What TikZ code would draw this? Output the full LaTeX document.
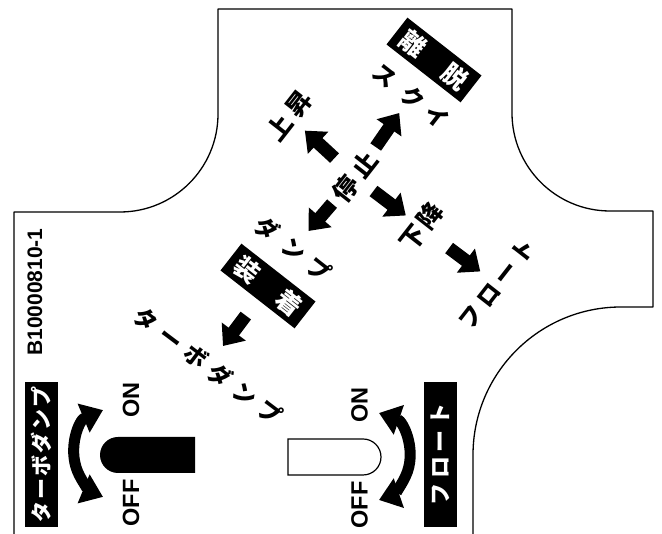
\documentclass[tikz,border=0pt]{standalone}
\usepackage{fontspec}
\setmainfont{Liberation Sans}
\newfontfamily\jp{Noto Sans CJK JP}
\usepackage{tikz}
\usetikzlibrary{arrows.meta, calc}

\begin{document}
\begin{tikzpicture}[
    x=1pt, y=1pt,
    every node/.style={inner sep=0pt, outer sep=0pt},
    kana/.style={font=\jp\bfseries\fontsize{23}{23}\selectfont},
    kanji/.style={font=\jp\bfseries\fontsize{25}{25}\selectfont},
    tag/.style={fill=black, text=white, minimum width=94pt, minimum height=34pt, font=\jp\bfseries\fontsize{25}{25}\selectfont},
    sidetag/.style={fill=black, text=white, minimum width=145pt, minimum height=33pt, rotate=90, font=\jp\bfseries\fontsize{21}{21}\selectfont},
    latin/.style={font=\bfseries\fontsize{23.5}{24}\selectfont, rotate=90},
    blockarrow/.style={line width=13pt, -{Triangle[length=18pt, width=29pt]}},
    swing/.style={line width=11pt, {Triangle[length=21pt, width=30pt]}-{Triangle[length=21pt, width=30pt]}},
    panel/.style={line width=1.3pt, line join=round},
    ]

    \useasboundingbox (0,0) rectangle (662,534);

    % Panel outline
    \draw[panel] (14,0) -- (14,322) -- (120,322)
        arc[start angle=-90, end angle=0, radius=98] -- (218,525) -- (512,525) -- (512,421)
        arc[start angle=180, end angle=270, radius=98] -- (653,323) -- (653,227) -- (621,227)
        arc[start angle=90, end angle=180, radius=148] -- (473,0);

    % Serial number
    \node[latin, font=\bfseries\fontsize{21}{21}\selectfont] (serial) at (35,242) {B10000810-1};

    % Lever gate: centre and the two axes
    \node[kanji, rotate=52] (stop) at (355,357) {停\hspace{5pt}止};
    \node[kanji, rotate=52] (rise) at (289,418) {上\hspace{6pt}昇};
    \node[kanji, rotate=52] (lower) at (421,307) {下\hspace{3pt}降};
    \node[kana, rotate=52] (float) at (497,250) {フ\hspace{5pt}ロ\hspace{5pt}ー\hspace{5pt}ト};
    \node[kana, rotate=-38] (scoop) at (411,438) {ス\hspace{12pt}ク\hspace{8pt}イ};
    \node[tag, rotate=-38] (detach) at (434,474) {離\hspace{28pt}脱};
    \node[kana, rotate=-38] (dump) at (293,285) {ダ\hspace{11pt}ン\hspace{9pt}プ};
    \node[tag, rotate=-38] (attach) at (268,248) {装\hspace{28pt}着};
    \node[kana, rotate=-37] (turbo) at (208,168) {タ\hspace{8pt}ー\hspace{8pt}ボ\hspace{8pt}ダ\hspace{8pt}ン\hspace{8pt}プ};

    % Gate arrows
    \draw[blockarrow] ($(stop)!0.31!(rise)$) -- ($(stop)!0.76!(rise)$);
    \draw[blockarrow] ($(stop)!0.28!(lower)$) -- ($(stop)!0.77!(lower)$);
    \draw[blockarrow] ($(lower)!0.37!(float)$) -- ($(lower)!0.78!(float)$);
    \draw[blockarrow] ($(stop)!0.37!(scoop)$) -- ($(stop)!0.79!(scoop)$);
    \draw[blockarrow] ($(stop)!0.37!(dump)$) -- ($(stop)!0.75!(dump)$);
    \draw[blockarrow] ($(attach)!0.37!(turbo)$) -- ($(attach)!0.75!(turbo)$);

    % Turbo dump switch (left)
    \node[sidetag] (turbotag) at (41.5,79.5) {タ\hspace{2pt}ー\hspace{2pt}ボ\hspace{2pt}ダ\hspace{2pt}ン\hspace{2pt}プ};
    \coordinate (pivotL) at (121,80.5);
    \draw[swing] ($(pivotL)+(112.5:47)$) arc[start angle=112.5, end angle=247.5, radius=47];
    \fill (195,61) -- (118,61) arc[start angle=270, end angle=90, radius=18] -- (195,97) -- cycle;
    \node[latin] (onL) at (131,134) {ON};
    \node[latin] (offL) at (131,31) {OFF};

    % Float switch (right)
    \node[sidetag, font=\jp\bfseries\fontsize{22}{22}\selectfont] (floattag) at (440,79.5) {フ\hspace{5pt}ロ\hspace{5pt}ー\hspace{5pt}ト};
    \coordinate (pivotR) at (364,77.5);
    \draw[swing] ($(pivotR)+(71:46)$) arc[start angle=71, end angle=-71, radius=46];
    \draw[line width=1.2pt] (288,59) -- (363,59) arc[start angle=-90, end angle=90, radius=18] -- (288,95) -- cycle;
    \node[latin] (onR) at (359.5,129) {ON};
    \node[latin] (offR) at (359.5,29) {OFF};

\end{tikzpicture}
\end{document}
